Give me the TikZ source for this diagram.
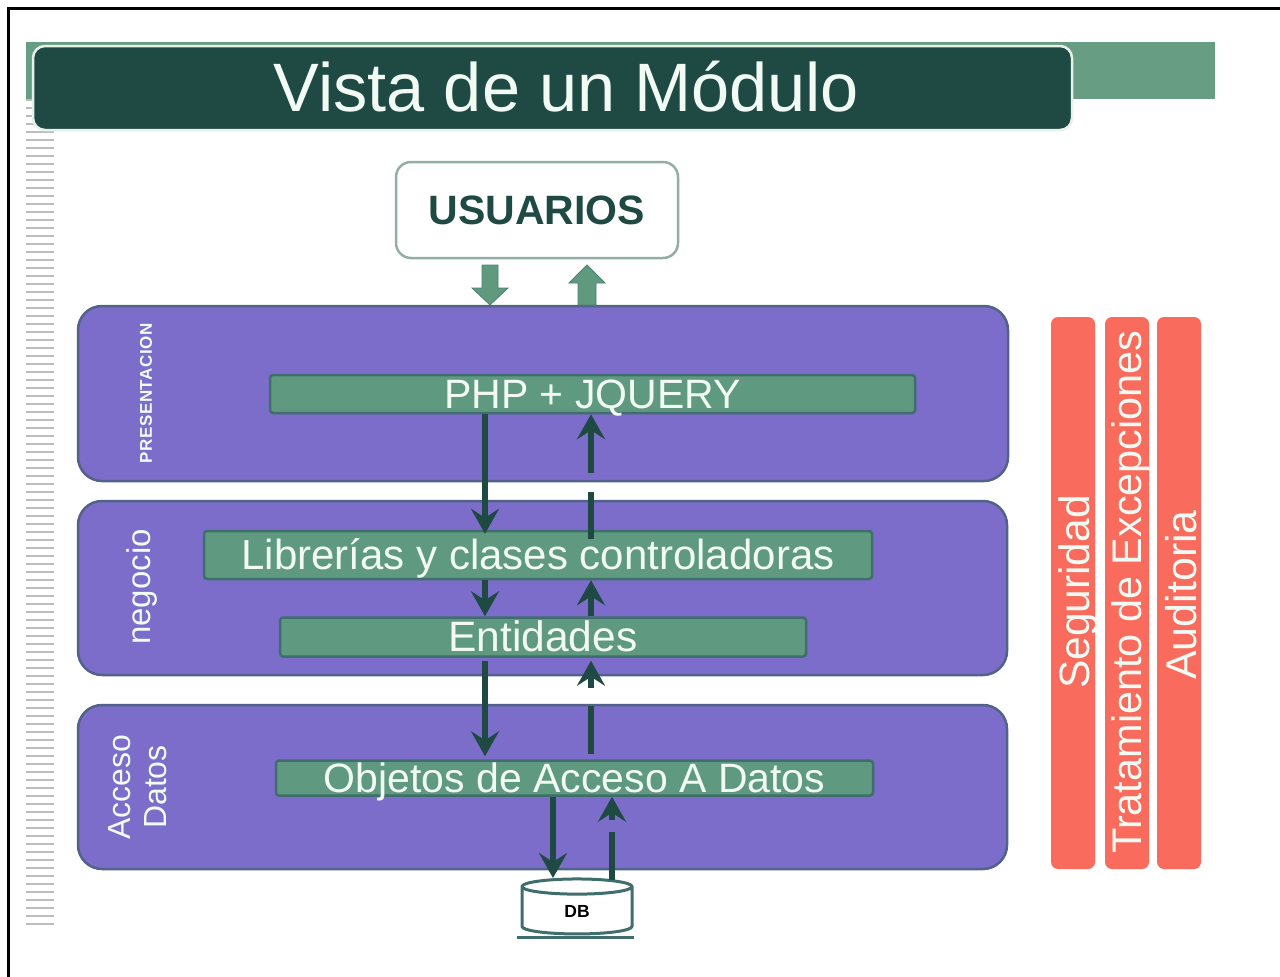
\documentclass[tikz,border=0pt]{standalone}
\usepackage{fontspec}
\setmainfont{Liberation Sans}
\usetikzlibrary{arrows.meta,shapes.geometric}
\definecolor{dkgreen}{HTML}{1F4A44}
\definecolor{midgreen}{HTML}{679D82}
\definecolor{fatgreen}{HTML}{5F9A7E}
\definecolor{purp}{HTML}{7B6DC9}
\definecolor{purpedge}{HTML}{53628A}
\definecolor{barfill}{HTML}{5F9A80}
\definecolor{baredge}{HTML}{3F6E6C}
\definecolor{salmon}{HTML}{F96B5C}
\definecolor{usredge}{HTML}{93AFA5}
\definecolor{txtlight}{HTML}{F2FAF4}
\definecolor{stripe}{HTML}{BDBDBD}
\newcommand{\fs}[1]{\fontsize{#1}{#1}\selectfont}
\tikzset{
 band/.style={draw=purpedge,line width=2.5pt,fill=purp,rounded corners=24pt,inner sep=0pt},
 bar/.style={draw=baredge,line width=2.5pt,fill=barfill,rounded corners=3pt,inner sep=0pt,text=txtlight,text height=29pt,text depth=0pt},
 side/.style={fill=salmon,rounded corners=7pt,inner sep=0pt,text=txtlight},
 vlabel/.style={rotate=90,text=txtlight,inner sep=0pt,align=center},
 flow/.style={draw=dkgreen,line width=5.5pt},
 flowhead/.style={flow,-{Stealth[length=25pt,width=28pt,inset=9pt]}},
 fat/.style={draw=baredge!60!fatgreen,line width=.8pt,fill=fatgreen},
}
\begin{document}
\begin{tikzpicture}[x=1pt,y=-1pt]
\useasboundingbox (0,0) rectangle (1280,977);
\fill[white] (0,0) rectangle (1280,977);
% frame: top and left only
\draw[black,line width=3pt] (8,977) -- (8,8) -- (1280,8);
% page stripes and header ribbon
\foreach \yy in {100,108,...,924} \draw[stripe,line width=1.5pt] (26,\yy) -- (54,\yy);
\fill[midgreen] (26,42) rectangle (1215,99);
% title
\node[draw=white!85!midgreen,line width=2.5pt,fill=dkgreen,rounded corners=12pt,minimum width=1039pt,minimum height=84pt,inner sep=0pt] (title) at (552.5,88) {};
\node[text=txtlight,inner sep=0pt,anchor=center] (titletext) at (566.5,87) {\fs{68.5}Vista de un Módulo};
% usuarios
\node[draw=usredge,line width=2.5pt,fill=white,rounded corners=15pt,minimum width=282pt,minimum height=96pt,inner sep=0pt,text=dkgreen] (usr) at (537,210) {\fs{41}\textbf{USUARIOS}};
% bands
\node[band,minimum width=930pt,minimum height=175pt] (pres) at (543,393.5) {};
\node[band,minimum width=929pt,minimum height=174pt] (neg) at (542.5,588) {};
\node[band,minimum width=929pt,minimum height=164pt] (acc) at (542.5,787) {};
\node[vlabel] (l1) at (146,393) {\fs{17}\addfontfeatures{LetterSpace=3.5}\textbf{PRESENTACION}};
\node[vlabel] (l2) at (142,587) {\fs{33}negocio};
\node[vlabel] (l3) at (137.5,787) {\fs{32}Acceso\\[12pt]\fs{32}Datos};
% bars
\node[bar,minimum width=645pt,minimum height=38pt] (php) at (592.5,394) {\fs{41}PHP + JQUERY};
\node[bar,minimum width=668pt,minimum height=48pt] (lib) at (538,555) {\fs{42}Librerías y clases controladoras};
\node[bar,minimum width=526pt,minimum height=39pt] (ent) at (543,637) {\fs{42.5}Entidades};
\node[bar,minimum width=597pt,minimum height=35pt] (obj) at (574.5,778) {\fs{41}Objetos de Acceso A Datos};
% side bars
\node[side,minimum width=44pt,minimum height=552pt] (s1) at (1073,593) {};
\node[side,minimum width=44pt,minimum height=552pt] (s2) at (1127,593) {};
\node[side,minimum width=44pt,minimum height=552pt] (s3) at (1179,593) {};
\node[vlabel] (t1) at (1078,592) {\fs{42.5}Seguridad};
\node[vlabel] (t2) at (1131,592) {\fs{41.4}Tratamiento de Excepciones};
\node[vlabel] (t3) at (1181,595) {\fs{43}Auditoria};
% DB
\node[cylinder,shape border rotate=90,aspect=0.6,draw=baredge,line width=3pt,fill=white,minimum width=110pt,minimum height=55pt,inner sep=0pt,text=black] (db) at (577,911) {\raisebox{-2pt}{\fs{17.5}\textbf{DB}}};
\coordinate (dbl) at (517,937.5);
\coordinate (dbr) at (634,937.5);
\draw[draw=baredge,line width=3pt] (dbl) -- (dbr);
% guides
\coordinate (dn) at (485,0);
\coordinate (up) at (591,0);
\coordinate (dn2) at (553,0);
\coordinate (up2) at (612,0);
% fat arrows between usuarios and presentation
\draw[fat] (482,265) -- (498,265) -- (498,288) -- (508,288) -- (490,305) -- (472,288) -- (482,288) -- cycle;
\draw[fat] (578,305) -- (596,305) -- (596,283) -- (605,283) -- (587,265) -- (569,283) -- (578,283) -- cycle;
% down flow
\draw[flowhead,shorten >=-4pt] (php.south -| dn) -- (lib.north -| dn);
\draw[flowhead] (lib.south -| dn) -- (ent.north -| dn);
\draw[flowhead,shorten <=3pt,shorten >=3pt] (ent.south -| dn) -- (obj.north -| dn);
\draw[flowhead] (obj.south -| dn2) -- (553,878);
% up flow
\coordinate (a1) at (591,473); \coordinate (a2) at (591,492);
\coordinate (a3) at (591,688); \coordinate (a4) at (591,706);
\coordinate (a5) at (612,820); \coordinate (a6) at (612,832);
\draw[flowhead] (a1) -- (php.south -| up);
\draw[flow,shorten <=-9pt] (lib.north -| up) -- (a2);
\draw[flowhead] (ent.north -| up) -- (lib.south -| up);
\draw[flowhead,shorten >=3pt] (a3) -- (ent.south -| up);
\draw[flow,shorten <=5pt] (obj.north -| up) -- (a4);
\draw[flowhead] (a5) -- (obj.south -| up2);
\draw[flow] (612,880) -- (a6);
\end{tikzpicture}
\end{document}
